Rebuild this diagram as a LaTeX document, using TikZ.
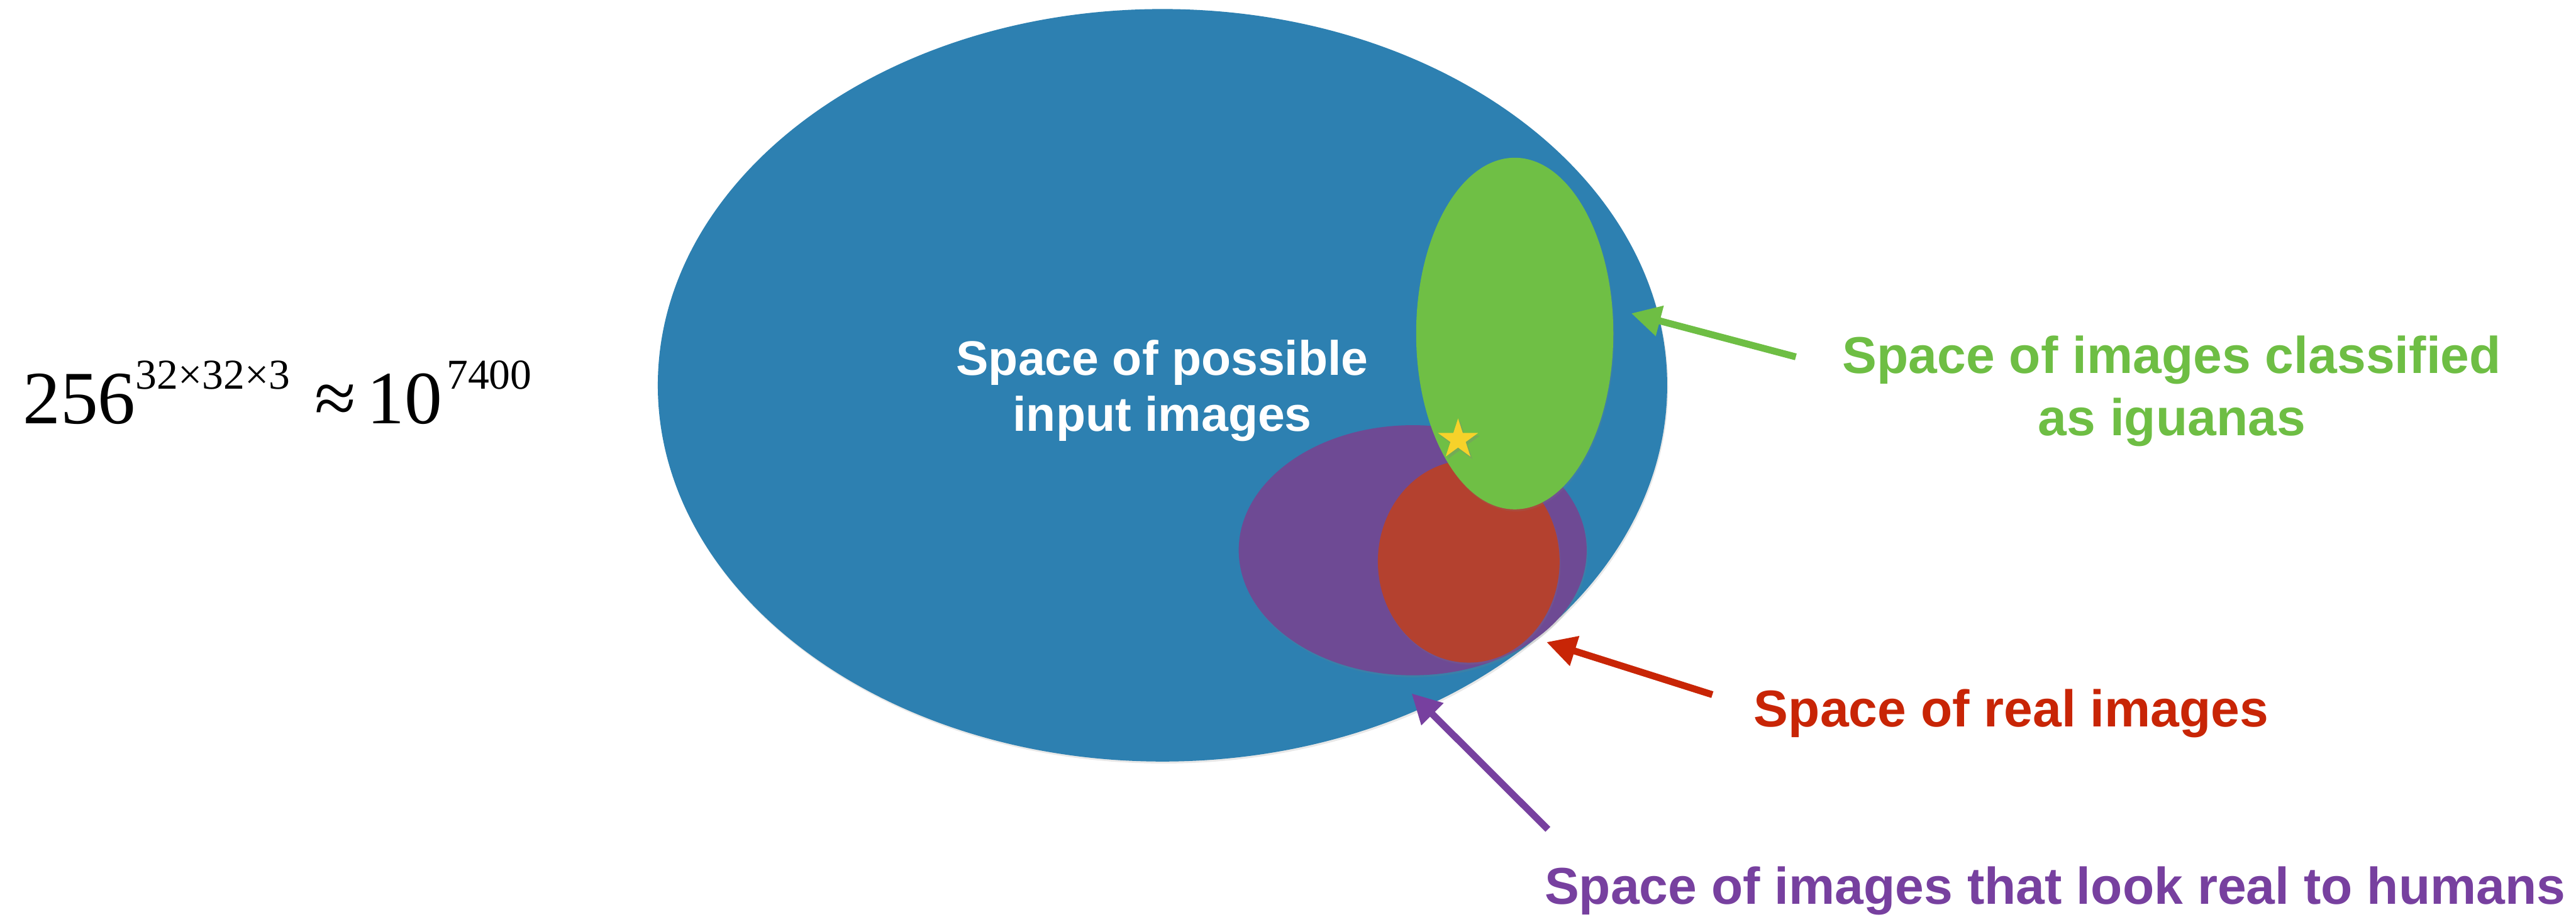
\documentclass[tikz,border=0pt]{standalone}
\usepackage{fontspec}
\setmainfont{Liberation Sans}
\newfontfamily\timesfont{Liberation Serif}
\usetikzlibrary{shapes.geometric,arrows.meta,shadows}
\definecolor{blueS}{HTML}{2D80B1}
\definecolor{greenS}{HTML}{6FBF45}
\definecolor{purpleS}{HTML}{6E4A94}
\definecolor{redS}{HTML}{B4412F}
\definecolor{starS}{HTML}{F6D22A}
\definecolor{greenT}{HTML}{6EBE44}
\definecolor{redT}{HTML}{C82506}
\definecolor{purpleT}{HTML}{77409F}
\begin{document}
\begin{tikzpicture}[x=1pt,y=-1pt,
  region/.style={ellipse, inner sep=0pt, draw=none,
    drop shadow={shadow xshift=0.6pt, shadow yshift=-1.2pt, opacity=0.18}},
  lbl/.style={font=\fontsize{31.5}{37.8}\selectfont\bfseries, inner sep=0pt},
  innerlbl/.style={font=\fontsize{29.5}{33.9}\selectfont\bfseries, inner sep=0pt, text=white},
  pointer/.style={line width=4.2pt, -{Triangle[length=18pt,width=18pt]}},
]
\useasboundingbox (0,0) rectangle (1568,557.8);

% regions
\node[region, fill=blueS, minimum width=614.4pt, minimum height=458pt] (space) at (707.6,234.5) {};
\node[region, fill=purpleS, minimum width=211.8pt, minimum height=152.2pt] (human) at (859.9,334.9) {};
\node[region, fill=redS, minimum width=110.6pt, minimum height=123.2pt] (real) at (894,341.7) {};
\node[region, fill=greenS, minimum width=120pt, minimum height=214pt] (iguana) at (922,203) {};
\node[star, star points=5, star point ratio=2.618, minimum size=25.6pt, inner sep=0pt,
  fill=starS, drop shadow={shadow xshift=1.2pt, shadow yshift=-1.6pt, opacity=0.3}] (adv) at (887.5,267.5) {};

% texts
\node[innerlbl, anchor=base] (in1) at (707.5,228.5) {Space of possible};
\node[innerlbl, anchor=base] (in2) at (707.5,262.4) {input images};

\node[lbl, text=greenT, anchor=base] (g1) at (1322,227.2) {Space of images classified};
\node[lbl, text=greenT, anchor=base] (g2) at (1322,265.0) {as iguanas};
\node[lbl, text=redT, anchor=base west] (r1) at (1067.4,442.3) {Space of real images};
\node[lbl, text=purpleT, anchor=base west] (p1) at (940,550.3) {Space of images that look real to humans};

\node[inner sep=0pt, anchor=base west] (formula) at (13.7,257.7)
  {\timesfont\fontsize{45.8}{50}\selectfont 256\raisebox{20.8pt}{\fontsize{25.9}{28}\selectfont 32×32×3}\hspace{15pt}≈\hspace{6.6pt}10\hspace{2.8pt}\raisebox{20.8pt}{\fontsize{25.9}{28}\selectfont 7400}};

% arrows
\coordinate (gtail) at (1093.1,217.2);
\coordinate (gtip) at (992.9,190.7);
\coordinate (rtail) at (1042.3,422.8);
\coordinate (rtip) at (941.3,390.8);
\coordinate (ptail) at (942.2,504.8);
\coordinate (ptip) at (859.2,422.0);
\draw[pointer, draw=greenT] (gtail) -- (gtip);
\draw[pointer, draw=redT] (rtail) -- (rtip);
\draw[pointer, draw=purpleT] (ptail) -- (ptip);
\end{tikzpicture}
\end{document}
